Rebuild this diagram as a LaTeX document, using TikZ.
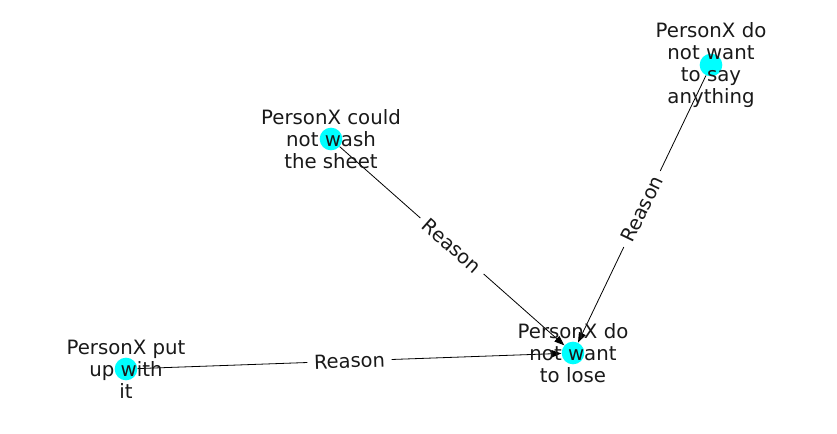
\documentclass[tikz,border=0pt]{standalone}
\usepackage{fontspec}
\setmainfont{DejaVu Sans}
\usepackage{tikz}
\usetikzlibrary{arrows.meta}

\definecolor{nodecyan}{RGB}{0,255,255}
\tikzset{
  event/.style={circle,fill=nodecyan,inner sep=0pt,minimum size=17pt},
  eventtext/.style={align=center,inner sep=0pt,font=\fontsize{14.8}{16.5}\selectfont,text=black!90},
  rel/.style={draw=black,line width=0.6pt,-{Triangle[length=7.5pt,width=5.5pt]}},
  rellabel/.style={sloped,fill=white,inner xsep=5pt,inner ysep=3pt,font=\fontsize{14.6}{16.5}\selectfont,text=black!90}
}

\begin{document}
\begin{tikzpicture}[x=0.75pt,y=-0.75pt]
  \useasboundingbox (0,0) rectangle (837,434);

  % event circles
  \node[event] (say) at (711,65) {};
  \node[event] (wash) at (331,139) {};
  \node[event] (lose) at (573,353) {};
  \node[event] (put) at (126,369) {};

  % reason edges
  \draw[rel] (wash) -- node[rellabel] {Reason} (lose);
  \draw[rel] (say) -- node[rellabel] {Reason} (lose);
  \draw[rel] (put) -- node[rellabel] {Reason} (lose);

  % event texts
  \node[eventtext] (saytext) at (say) {PersonX do\\not want\\to say\\anything};
  \node[eventtext] (washtext) at (wash) {PersonX could\\not wash\\the sheet};
  \node[eventtext] (losetext) at (lose) {PersonX do\\not want\\to lose};
  \node[eventtext] (puttext) at (put) {PersonX put\\up with\\it};
\end{tikzpicture}
\end{document}
